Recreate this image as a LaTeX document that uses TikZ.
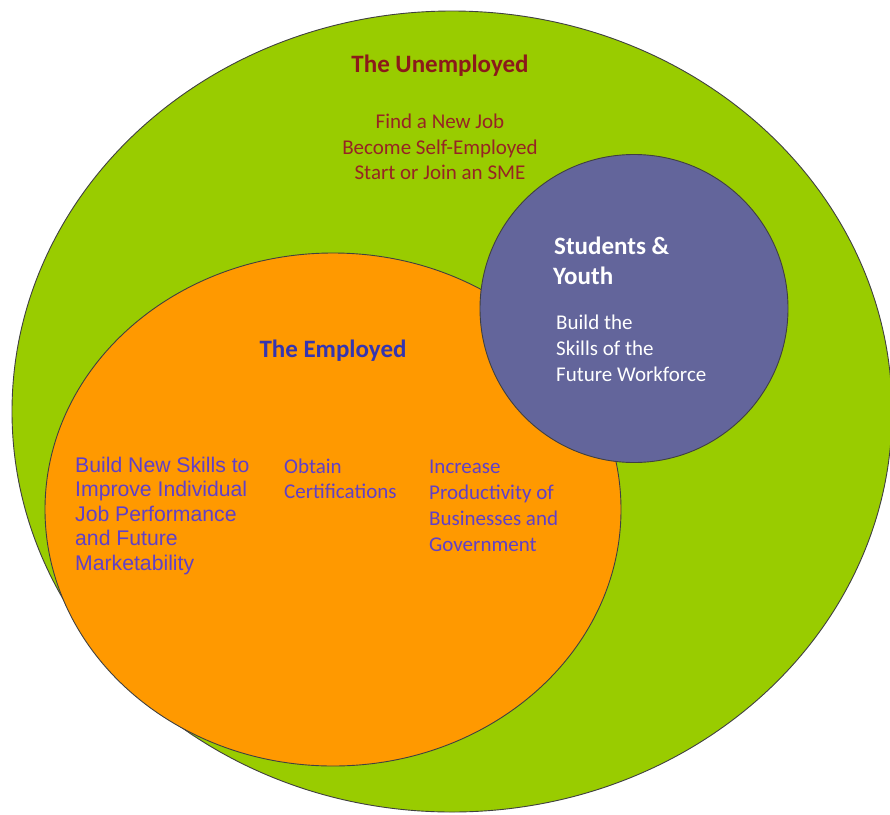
\documentclass[tikz,border=0pt]{standalone}
\usepackage{fontspec}
\setmainfont{Carlito}
\newfontfamily\arialf{Liberation Sans}
\definecolor{vgreen}{HTML}{99CC00}
\definecolor{vorange}{HTML}{FF9900}
\definecolor{vpurple}{HTML}{63659B}
\definecolor{unemp}{HTML}{8B1A1A}
\definecolor{unempsub}{HTML}{962424}
\definecolor{empl}{HTML}{3535B0}
\definecolor{emplsub}{HTML}{6040C8}
\tikzset{
  setshape/.style={draw=black!75, line width=0.9pt},
  head/.style={inner sep=0pt, font=\fontsize{25}{30}\selectfont\bfseries},
  body/.style={inner sep=0pt, font=\fontsize{21}{25}\selectfont},
  armbody/.style={inner sep=0pt, font=\arialf\fontsize{21.2}{25}\selectfont},
}
\begin{document}
\begin{tikzpicture}[x=1pt,y=-1pt]
\useasboundingbox (0,0) rectangle (890,814);
\clip (0,0) rectangle (890,814);
\fill[white] (0,0) rectangle (890,814);
% sets
\draw[setshape, fill=vgreen] (452,411.5) ellipse [x radius=440, y radius=400.5];
\draw[setshape, fill=vorange] (333,509.5) ellipse [x radius=288, y radius=256.5];
\draw[setshape, fill=vpurple] (634,308.5) circle [radius=154];
% unemployed
\node[head, text=unemp, anchor=base] (uh) at (440,72) {The Unemployed};
\node[body, text=unempsub, anchor=base] (u1) at (440,128) {Find a New Job};
\node[body, text=unempsub, anchor=base] (u2) at (440,154) {Become Self-Employed};
\node[body, text=unempsub, anchor=base] (u3) at (440,179) {Start or Join an SME};
% students
\node[head, text=white, anchor=base west] (s1) at (554,254) {Students \&};
\node[head, text=white, anchor=base west] (s2) at (553,284) {Youth};
\node[body, text=white, anchor=base west] (s3) at (556,329) {Build the};
\node[body, text=white, anchor=base west] (s4) at (556,355) {Skills of the};
\node[body, text=white, anchor=base west] (s5) at (556,381) {Future Workforce};
% employed
\node[head, text=empl, anchor=base] (eh) at (333,357) {The Employed};
\node[armbody, text=emplsub, anchor=base west] (a1) at (75,472) {Build New Skills to};
\node[armbody, text=emplsub, anchor=base west] (a2) at (75,496.6) {Improve Individual};
\node[armbody, text=emplsub, anchor=base west] (a3) at (75,521.2) {Job Performance};
\node[armbody, text=emplsub, anchor=base west] (a4) at (75,545.8) {and Future};
\node[armbody, text=emplsub, anchor=base west] (a5) at (75,570.4) {Marketability};
\node[body, text=emplsub, anchor=base west] (b1) at (284,473) {Obtain};
\node[body, text=emplsub, anchor=base west] (b2) at (284,498) {Certifications};
\node[body, text=emplsub, anchor=base west] (c1) at (429,473) {Increase};
\node[body, text=emplsub, anchor=base west] (c2) at (429,499.3) {Productivity of};
\node[body, text=emplsub, anchor=base west] (c3) at (429,525.6) {Businesses and};
\node[body, text=emplsub, anchor=base west] (c4) at (429,551.9) {Government};
\end{tikzpicture}
\end{document}
